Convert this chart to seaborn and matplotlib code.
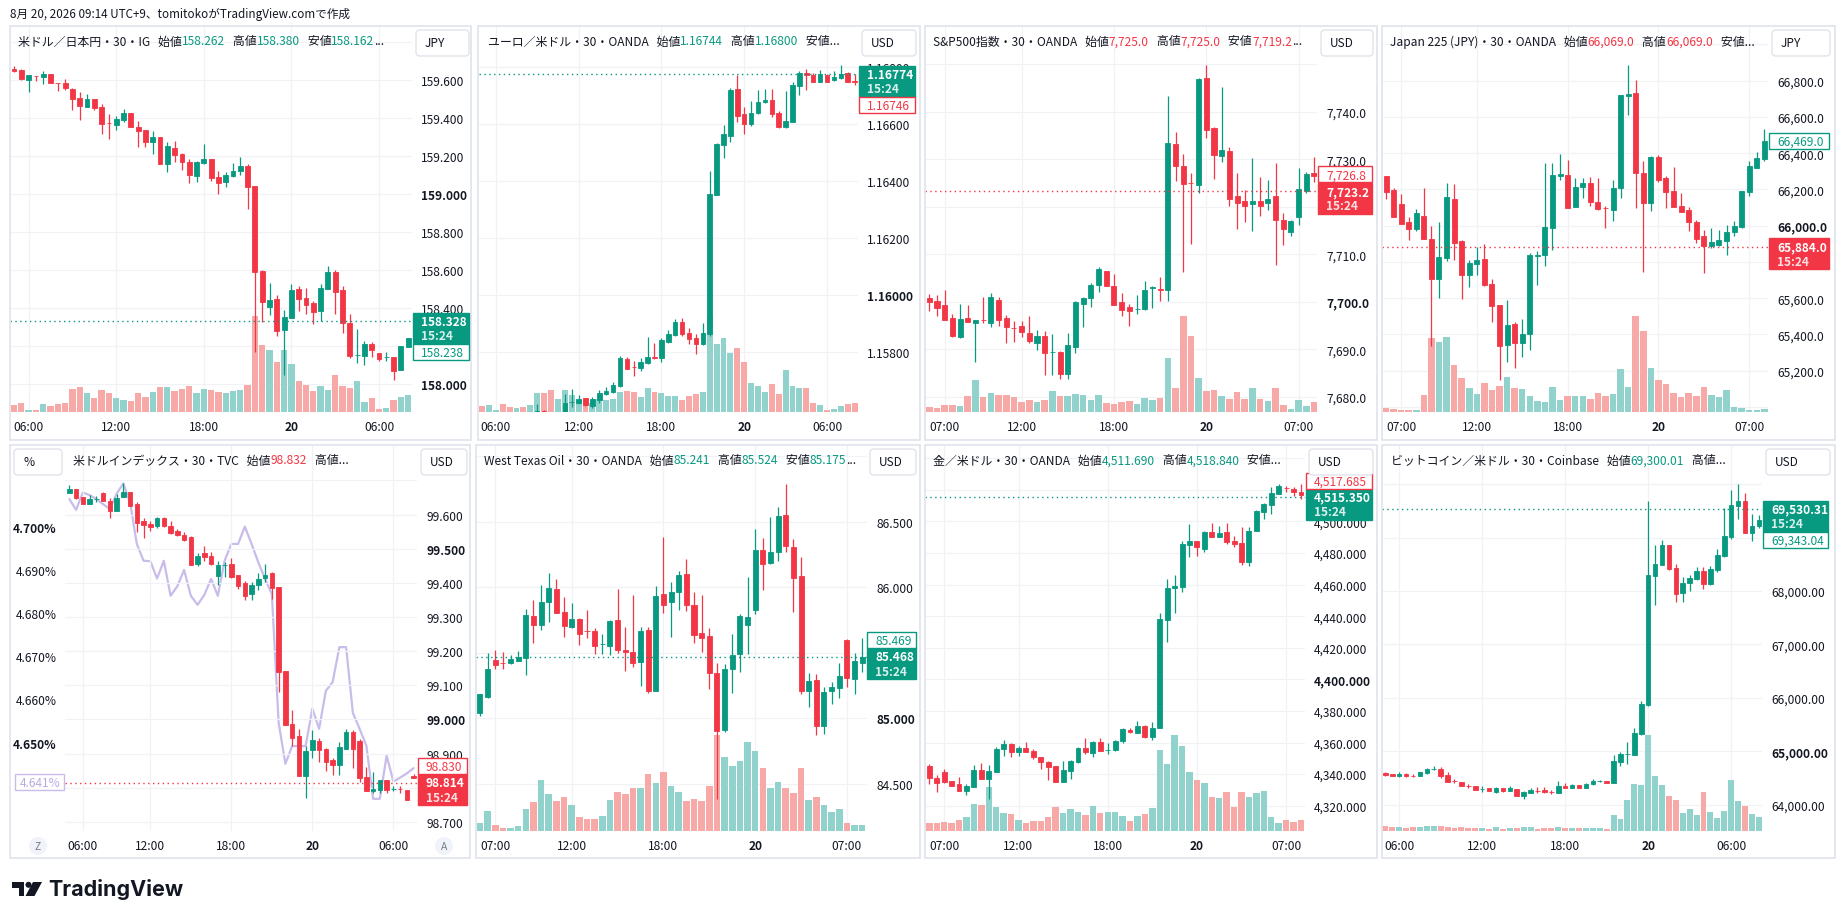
import numpy as np
import matplotlib.pyplot as plt
import seaborn as sns
from matplotlib.patches import Rectangle, FancyBboxPatch, Circle, Polygon
from matplotlib.transforms import IdentityTransform, blended_transform_factory

W, H = 1844, 920
UP, DOWN = '#089981', '#F23645'
UP_VOL, DOWN_VOL = '#92D2CC', '#F7A9A7'
GRID = '#F0F2F6'
TEXT = '#131722'
BORDER = '#E0E3EB'
PURPLE = '#C9BCEA'
VOL_SHARE = 0.25
FS = 8.6

# ---- data (30 min candles) ----
times_a = ['06:00', '12:00', '18:00', '20', '06:00']
times_b = ['07:00', '12:00', '18:00', '20', '07:00']

# USD/JPY
jpy_open = [159.656,159.653,159.600,159.621,159.616,159.628,159.584,159.582,159.551,159.504,
            159.458,159.498,159.454,159.372,159.363,159.388,159.425,159.353,159.335,159.274,
            159.300,159.158,159.240,159.207,159.167,159.095,159.161,159.181,159.088,159.060,
            159.095,159.119,159.147,159.039,158.593,158.405,158.446,158.284,158.347,158.498,
            158.451,158.425,158.384,158.498,158.586,158.491,158.319,158.149,158.147,158.209,
            158.161,158.138,158.139,158.074,158.195]
jpy_high = [159.674,159.656,159.625,159.621,159.647,159.630,159.584,159.604,159.556,159.533,
            159.525,159.498,159.472,159.419,159.407,159.446,159.425,159.382,159.335,159.332,
            159.300,159.270,159.275,159.214,159.182,159.172,159.261,159.181,159.119,159.116,
            159.161,159.193,159.156,159.039,158.598,158.530,158.467,158.388,158.525,158.512,
            158.502,158.435,158.525,158.621,158.596,158.512,158.368,158.288,158.226,158.218,
            158.161,158.168,158.139,158.200,158.242]
jpy_low = [159.642,159.600,159.537,159.595,159.577,159.582,159.542,159.547,159.442,159.389,
           159.454,159.442,159.314,159.288,159.335,159.375,159.350,159.247,159.247,159.209,
           159.156,159.116,159.168,159.126,159.058,159.063,159.156,159.068,158.998,159.037,
           159.089,159.100,158.921,158.168,158.326,158.363,158.253,158.047,158.344,158.381,
           158.365,158.316,158.330,158.498,158.368,158.265,158.135,158.107,158.100,158.142,
           158.118,158.121,158.021,158.074,158.191]
jpy_close = [159.647,159.604,159.625,159.619,159.630,159.584,159.582,159.556,159.500,159.463,
             159.498,159.451,159.368,159.370,159.393,159.425,159.353,159.330,159.274,159.300,
             159.158,159.253,159.205,159.165,159.100,159.168,159.181,159.082,159.058,159.098,
             159.119,159.144,159.037,158.589,158.432,158.440,158.279,158.351,158.493,158.446,
             158.416,158.379,158.502,158.586,158.484,158.319,158.144,158.151,158.209,158.179,
             158.130,158.139,158.068,158.196,158.239]
jpy_vol = [20,26,5,5,23,17,23,26,68,74, 56,41,65,56,41,35,32,56,44,59,
           74,74,62,68,77,56,68,65,59,56, 62,65,80,288,200,185,149,185,143,92,
           80,62,77,65,110,77,71,92,29,41, 8,11,35,44,50]
jpy_head = [('米ドル／日本円・30・IG   始値', 0), ('158.262', 1), ('   高値', 0), ('158.380', 1),
            ('   安値', 0), ('158.162', 1), ('...', 0)]

# EUR/USD
eur_open = [1.15545,1.15529,1.15560,1.15577,1.15552,1.15553,1.15561,1.15550,1.15559,1.15595,
            1.15542,1.15538,1.15571,1.15625,1.15623,1.15641,1.15613,1.15634,1.15654,1.15662,
            1.15683,1.15776,1.15749,1.15746,1.15763,1.15783,1.15781,1.15837,1.15862,1.15907,
            1.15869,1.15850,1.15828,1.15865,1.16352,1.16526,1.16559,1.16723,1.16635,1.16600,
            1.16637,1.16676,1.16684,1.16640,1.16588,1.16608,1.16734,1.16779,1.16772,1.16748,
            1.16772,1.16754,1.16760,1.16779,1.16752]
eur_high = [1.15547,1.15553,1.15582,1.15578,1.15568,1.15570,1.15582,1.15563,1.15619,1.15598,
            1.15544,1.15577,1.15653,1.15671,1.15649,1.15641,1.15643,1.15667,1.15677,1.15696,
            1.15788,1.15783,1.15769,1.15780,1.15853,1.15834,1.15849,1.15880,1.15917,1.15919,
            1.15886,1.15865,1.15902,1.16435,1.16532,1.16596,1.16725,1.16772,1.16661,1.16682,
            1.16720,1.16723,1.16723,1.16647,1.16717,1.16749,1.16787,1.16793,1.16779,1.16790,
            1.16775,1.16787,1.16807,1.16781,1.16774]
eur_low = [1.15518,1.15527,1.15558,1.15545,1.15545,1.15547,1.15545,1.15536,1.15553,1.15536,
           1.15504,1.15536,1.15567,1.15609,1.15620,1.15612,1.15606,1.15623,1.15650,1.15656,
           1.15678,1.15740,1.15717,1.15734,1.15758,1.15775,1.15767,1.15834,1.15857,1.15859,
           1.15831,1.15795,1.15825,1.15859,1.16351,1.16482,1.16538,1.16608,1.16565,1.16594,
           1.16634,1.16672,1.16623,1.16587,1.16586,1.16608,1.16702,1.16720,1.16747,1.16747,
           1.16747,1.16752,1.16758,1.16746,1.16737]
eur_close = [1.15529,1.15552,1.15578,1.15553,1.15550,1.15565,1.15550,1.15559,1.15595,1.15539,
             1.15540,1.15574,1.15622,1.15626,1.15637,1.15614,1.15637,1.15657,1.15666,1.15685,
             1.15780,1.15743,1.15747,1.15766,1.15783,1.15779,1.15843,1.15865,1.15907,1.15865,
             1.15848,1.15828,1.15869,1.16355,1.16530,1.16565,1.16720,1.16629,1.16601,1.16639,
             1.16677,1.16685,1.16635,1.16589,1.16611,1.16737,1.16780,1.16771,1.16749,1.16774,
             1.16749,1.16764,1.16776,1.16748,1.16746]
eur_vol = [17,20,5,23,14,11,14,20,56,56, 65,38,65,50,35,26,26,38,35,38,
           59,62,59,44,71,59,56,47,47,35, 47,53,59,287,203,221,176,191,149,86,
           77,59,83,53,125,77,71,71,26,20, 5,8,17,23,26]
eur_head = [('ユーロ／米ドル・30・OANDA   始値', 0), ('1.16744', 1), ('   高値', 0), ('1.16800', 1),
            ('   安値...', 0)]

# S&P 500
spx_open = [7700.7,7700.1,7699.3,7696.5,7692.6,7696.5,7695.6,7696.2,7695.6,7700.3,
            7696.5,7694.5,7694.8,7693.4,7691.4,7692.7,7689.3,7689.5,7684.8,7690.4,
            7699.6,7700.7,7703.6,7706.4,7703.2,7699.9,7698.8,7698.4,7698.5,7702.9,
            7702.6,7702.5,7733.1,7728.5,7725.0,7724.6,7747.0,7736.6,7730.7,7731.7,
            7722.2,7721.2,7720.5,7721.2,7720.7,7722.2,7717.2,7714.6,7717.9,7723.3,
            7727.0]
spx_high = [7701.6,7701.4,7702.5,7697.4,7699.5,7699.3,7696.1,7700.9,7701.8,7700.9,
            7697.2,7695.9,7695.9,7696.9,7694.0,7693.8,7693.2,7689.7,7693.4,7700.2,
            7700.9,7703.9,7707.2,7706.4,7705.8,7701.8,7699.5,7701.3,7704.3,7703.2,
            7705.1,7743.2,7735.7,7731.1,7727.1,7747.1,7749.8,7736.8,7745.2,7732.6,
            7727.1,7723.6,7730.2,7726.3,7725.6,7729.2,7718.6,7717.1,7728.1,7727.2,
            7730.5]
spx_low = [7698.1,7697.0,7696.2,7692.6,7692.3,7695.8,7687.4,7695.6,7694.6,7694.9,
           7691.4,7691.6,7692.5,7691.2,7689.9,7684.6,7684.6,7683.7,7683.7,7689.1,
           7694.6,7698.9,7702.1,7703.2,7699.4,7697.0,7694.9,7697.3,7698.3,7698.7,
           7700.2,7700.2,7725.5,7706.2,7712.1,7722.8,7734.4,7725.8,7729.5,7720.1,
           7715.4,7716.8,7714.9,7718.1,7719.3,7707.8,7712.0,7713.8,7716.1,7722.8,
           7725.1]
spx_close = [7700.0,7698.7,7696.2,7692.8,7696.3,7695.8,7696.1,7696.1,7700.9,7696.2,
             7694.6,7694.4,7693.7,7691.8,7692.7,7689.1,7689.4,7684.8,7690.9,7700.0,
             7700.8,7703.5,7706.9,7703.2,7699.4,7698.3,7698.1,7698.5,7702.5,7703.0,
             7702.5,7733.4,7728.6,7724.7,7724.9,7746.9,7736.2,7730.9,7731.9,7721.6,
             7720.7,7720.2,7721.1,7720.2,7721.6,7717.1,7715.2,7716.9,7723.7,7726.9,
             7726.5]
spx_vol = [14,11,20,20,17,47,95,44,56,50, 50,44,29,35,29,35,62,47,47,53,
           50,35,50,26,23,29,32,23,41,35, 41,161,71,287,227,101,62,65,47,38,
           59,38,71,38,32,71,20,8,35,17, 29]
spx_head = [('S&P500指数・30・OANDA   始値', 0), ('7,725.0', 1), ('   高値', 0), ('7,725.0', 1),
            ('   安値', 0), ('7,719.2', 1), ('...', 0)]

# Japan 225
nk_open = [66274,66197,66120,66022,65982,66052,65926,65706,65820,66147,
           65917,65728,65789,65816,65678,65562,65343,65458,65353,65404,
           65831,65838,65989,66272,66280,66105,66212,66235,66132,66099,
           66088,66210,66717,66730,66289,66127,66377,66263,66189,66107,
           66086,66022,65941,65886,65895,65917,65963,65993,66188,66320,
           66368]
nk_high = [66274,66206,66175,66046,66092,66206,65996,66022,66235,66230,
           65923,65811,65881,65897,65706,65562,65590,65470,65485,65849,
           65858,66346,66346,66395,66364,66263,66263,66267,66261,66110,
           66252,66721,66886,66804,66355,66386,66390,66272,66322,66178,
           66101,66031,65976,65985,65976,66006,66028,66193,66355,66405,
           66533]
nk_low = [66147,66050,66009,65923,65972,65926,65338,65601,65807,65812,
          65595,65663,65728,65669,65467,65149,65250,65213,65277,65314,
          65675,65779,65868,66252,66098,66101,66151,66107,66086,65985,
          66028,66155,66611,66098,65746,66083,66243,66098,66101,66077,
          65972,65903,65737,65877,65890,65840,65941,65985,66162,66320,
          66359]
nk_close = [66188,66050,66009,65982,66068,65926,65706,65825,66156,65904,
            65728,65792,65812,65673,65559,65338,65452,65353,65402,65838,
            65838,65991,66280,66285,66098,66212,66235,66132,66092,66098,
            66206,66721,66725,66289,66123,66377,66252,66188,66105,66077,
            66018,65926,65890,65908,65921,65963,65996,66189,66327,66372,
            66465]
nk_vol = [11,8,5,5,5,50,221,209,224,140, 101,71,53,86,65,77,104,71,68,47,
          32,29,74,35,47,47,47,38,56,47, 53,128,74,287,242,131,95,83,56,44,
          56,47,74,50,44,65,14,11,5,5, 8]
nk_head = [('Japan 225 (JPY)・30・OANDA   始値', 0), ('66,069.0', 1), ('   高値', 0), ('66,069.0', 1),
           ('   安値...', 0)]

# US dollar index + US10Y comparison (%)
dxy_open = [99.663,99.675,99.653,99.632,99.645,99.663,99.641,99.612,99.653,99.665,
            99.631,99.582,99.573,99.568,99.590,99.566,99.553,99.540,99.535,99.454,
            99.488,99.478,99.421,99.452,99.455,99.423,99.399,99.366,99.395,99.413,
            99.428,99.389,99.143,98.987,98.950,98.833,98.909,98.938,98.913,98.882,
            98.865,98.913,98.964,98.938,98.832,98.789,98.793,98.821,98.795,98.797,
            98.794,98.835]
dxy_high = [99.687,99.675,99.653,99.658,99.656,99.667,99.648,99.661,99.692,99.665,
            99.636,99.589,99.582,99.592,99.592,99.582,99.558,99.548,99.537,99.488,
            99.507,99.490,99.463,99.462,99.472,99.423,99.405,99.404,99.429,99.455,
            99.431,99.389,99.143,99.029,98.972,98.923,98.969,98.945,98.917,98.886,
            98.935,98.972,98.969,98.943,98.860,98.845,98.823,98.821,98.806,98.804,
            98.794,98.840]
dxy_low = [99.663,99.646,99.632,99.632,99.638,99.641,99.591,99.612,99.653,99.624,
           99.550,99.532,99.553,99.562,99.565,99.543,99.536,99.524,99.451,99.448,
           99.463,99.452,99.395,99.416,99.413,99.382,99.351,99.351,99.380,99.402,
           99.353,99.081,98.985,98.923,98.835,98.770,98.886,98.874,98.850,98.837,
           98.837,98.913,98.858,98.818,98.789,98.785,98.785,98.785,98.791,98.785,
           98.765,98.827]
dxy_close = [99.675,99.649,99.632,99.646,99.646,99.641,99.612,99.648,99.665,99.626,
             99.576,99.570,99.564,99.589,99.567,99.546,99.540,99.527,99.451,99.480,
             99.475,99.455,99.453,99.453,99.418,99.392,99.363,99.395,99.411,99.423,
             99.384,99.138,98.985,98.946,98.835,98.906,98.940,98.911,98.876,98.865,
             98.918,98.962,98.913,98.828,98.789,98.796,98.821,98.794,98.796,98.796,
             98.765,98.827]
us10y = [4.7064,4.7039,4.7079,4.7073,4.7064,4.7052,4.7041,4.7076,4.7100,4.7056,
         4.6960,4.6921,4.6920,4.6880,4.6921,4.6840,4.6862,4.6900,4.6840,4.6819,
         4.6842,4.6879,4.6840,4.6921,4.6960,4.6960,4.7000,4.6960,4.6917,4.6879,
         4.6844,4.6547,4.6451,4.6492,4.6492,4.6492,4.6579,4.6532,4.6620,4.6640,
         4.6721,4.6721,4.6569,4.6532,4.6493,4.6370,4.6370,4.6470,4.6410,4.6419,
         4.6429,4.6441]
us10y_last = 4.641
pct_ticks = [4.65, 4.66, 4.67, 4.68, 4.69, 4.70]
dxy_head = [('米ドルインデックス・30・TVC   始値', 0), ('98.832', 1), ('   高値...', 0)]

# WTI
wti_open = [85.039,85.164,85.444,85.420,85.419,85.434,85.459,85.777,85.714,85.887,
            85.986,85.808,85.698,85.757,85.664,85.663,85.565,85.553,85.749,85.520,
            85.503,85.431,85.673,85.210,85.948,85.884,85.966,86.101,85.866,85.648,
            85.625,85.342,84.910,85.375,85.490,85.714,85.828,86.284,86.184,86.271,
            86.551,86.304,86.088,85.205,85.294,84.938,85.205,85.228,85.597,85.296,
            85.419]
wti_high = [85.185,85.497,85.520,85.505,85.482,85.510,85.833,85.905,86.017,86.108,
            86.062,85.922,85.879,85.765,85.826,85.686,85.642,85.749,85.986,85.693,
            85.943,85.698,85.698,86.011,86.380,86.037,86.126,86.215,85.961,85.943,
            85.686,85.419,85.414,85.642,85.795,86.080,86.444,86.375,86.538,86.609,
            86.788,86.368,86.228,85.345,85.335,85.235,85.274,85.421,85.604,85.495,
            85.612]
wti_low = [85.019,85.154,85.375,85.375,85.414,85.434,85.332,85.574,85.676,85.737,
           85.800,85.622,85.686,85.561,85.612,85.490,85.490,85.485,85.495,85.363,
           85.388,85.248,85.192,85.210,85.800,85.622,85.828,85.821,85.571,85.508,
           85.223,84.383,84.892,85.192,85.355,85.490,85.795,85.981,86.177,86.197,
           86.271,85.813,85.185,85.088,84.874,84.879,85.108,85.151,85.235,85.185,
           85.355]
wti_close = [85.185,85.375,85.406,85.419,85.452,85.464,85.788,85.714,85.884,85.994,
             85.800,85.706,85.757,85.642,85.663,85.553,85.566,85.744,85.523,85.503,
             85.424,85.668,85.210,85.933,85.866,85.961,86.093,85.866,85.637,85.612,
             85.345,84.905,85.375,85.482,85.777,85.770,86.284,86.177,86.266,86.543,
             86.312,86.070,85.210,85.281,84.943,85.197,85.235,85.319,85.304,85.434,
             85.464]
wti_vol = [25,60,17,9,9,14,65,86,152,110, 89,101,77,41,35,35,44,92,116,110,
           128,128,170,143,176,134,116,89,95,89, 134,287,221,194,209,266,239,188,128,146,
           128,113,188,92,101,77,56,65,23,17, 17]
wti_head = [('West Texas Oil・30・OANDA   始値', 0), ('85.241', 1), ('   高値', 0), ('85.524', 1),
            ('   安値', 0), ('85.175', 1), ('...', 0)]

# Gold
gold_open = [4344.9,4337.3,4341.5,4335.8,4333.7,4329.5,4331.6,4342.6,4336.9,4341.5,
             4355.9,4359.1,4354.2,4356.3,4354.8,4350.6,4347.9,4344.9,4334.8,4342.2,
             4347.4,4356.3,4353.4,4360.1,4355.4,4355.3,4361.2,4368.1,4366.0,4370.2,
             4363.7,4369.0,4437.8,4457.6,4458.7,4485.3,4487.6,4482.5,4493.1,4490.3,
             4493.1,4487.4,4486.1,4474.5,4494.1,4506.2,4510.6,4517.4,4521.0,4520.5,
             4518.8]
gold_high = [4346.4,4339.4,4343.2,4335.8,4338.4,4333.7,4345.8,4347.0,4345.8,4356.9,
             4361.6,4359.7,4358.0,4360.1,4355.9,4351.0,4348.5,4344.9,4348.1,4349.1,
             4356.9,4362.6,4361.2,4362.6,4359.7,4361.6,4369.0,4369.0,4373.4,4371.1,
             4372.8,4442.0,4463.5,4466.1,4487.4,4498.4,4487.8,4494.1,4499.0,4497.3,
             4499.0,4491.0,4496.3,4496.7,4507.4,4511.7,4521.6,4523.7,4522.6,4521.6,
             4523.7]
gold_low = [4333.7,4328.9,4334.1,4332.7,4329.5,4327.0,4331.6,4336.9,4324.2,4341.5,
            4351.7,4351.0,4351.7,4354.2,4349.6,4343.2,4336.5,4334.8,4334.8,4336.9,
            4347.0,4352.7,4351.0,4354.8,4352.7,4354.4,4359.7,4365.8,4366.0,4362.9,
            4361.6,4369.0,4423.9,4442.0,4455.1,4477.7,4478.3,4480.4,4490.3,4490.3,
            4485.7,4484.0,4472.6,4472.0,4494.1,4501.5,4504.7,4517.4,4518.8,4516.3,
            4514.2]
gold_close = [4337.3,4334.1,4335.2,4332.7,4329.5,4332.2,4342.6,4336.9,4341.7,4355.9,
              4359.1,4354.2,4356.5,4354.2,4350.6,4347.9,4344.7,4334.8,4342.6,4348.5,
              4356.3,4354.2,4360.1,4354.8,4355.5,4361.2,4368.5,4366.4,4370.2,4363.7,
              4369.0,4438.2,4457.6,4458.9,4485.7,4487.4,4483.6,4493.1,4490.3,4492.5,
              4487.2,4485.7,4474.1,4494.1,4506.4,4511.0,4518.0,4522.2,4520.9,4518.4,
              4516.9]
gold_vol = [25,23,26,23,32,41,80,77,131,71, 53,50,32,23,29,29,41,71,53,65,
            56,47,74,53,56,56,44,29,44,50, 68,242,200,287,254,176,152,143,101,98,
            116,71,116,101,113,119,41,23,32,26, 32]
gold_head = [('金／米ドル・30・OANDA   始値', 0), ('4,511.690', 1), ('   高値', 0), ('4,518.840', 1),
             ('   安値...', 0)]

# Bitcoin
btc_open = [64593,64568,64531,64574,64544,64531,64587,64673,64668,64556,
            64438,64431,64345,64344,64293,64306,64244,64306,64250,64294,
            64156,64213,64263,64281,64245,64213,64356,64318,64369,64318,
            64379,64442,64449,64412,64805,64948,64936,65323,65866,68287,
            68493,68861,68431,67963,68144,68225,68374,68131,68399,68661,
            69005,69597,69685,69086,69211]
btc_high = [64618,64568,64618,64587,64568,64618,64693,64730,64699,64612,
            64487,64431,64379,64356,64344,64306,64337,64318,64344,64294,
            64262,64306,64325,64325,64281,64443,64406,64387,64369,64406,
            64479,64468,64449,64930,64980,65167,65435,65935,69679,68861,
            68961,68861,68505,68256,68300,68456,68443,68474,68786,69548,
            69891,70003,69835,69441,69423]
btc_low = [64543,64531,64524,64524,64512,64531,64574,64655,64499,64431,
           64400,64344,64306,64281,64231,64256,64219,64244,64250,64169,
           64106,64213,64213,64219,64194,64213,64318,64306,64318,64318,
           64375,64418,64412,64412,64730,64761,64936,65304,65853,67744,
           68493,68399,67800,67788,68006,68212,68037,68112,68362,68630,
           68973,69348,69086,68942,69173]
btc_close = [64556,64531,64574,64543,64543,64605,64668,64674,64543,64431,
             64437,64344,64344,64281,64294,64256,64312,64250,64306,64169,
             64231,64281,64262,64231,64244,64356,64318,64369,64318,64387,
             64449,64443,64412,64818,64949,64949,65336,65885,68300,68505,
             68861,68412,67944,68150,68237,68374,68131,68412,68674,69023,
             69610,69685,69086,69211,69335]
btc_vol = [14,11,11,9,11,11,14,14,14,11, 9,11,9,9,9,6,11,6,9,9,
           11,11,6,9,9,11,9,9,9,9, 9,9,6,47,35,92,140,137,287,164,
           137,104,92,53,65,47,116,56,38,59, 152,89,74,50,41]
btc_head = [('ビットコイン／米ドル・30・Coinbase   始値', 0), ('69,300.01', 1), ('   高値...', 0)]

# ---- panel layout (pixels of the 1844x920 canvas) ----
PANELS = [
    dict(o=jpy_open, h=jpy_high, l=jpy_low, c=jpy_close, vol=jpy_vol, head=jpy_head, head_up=True,
         pane=(10, 27, 471, 441), plot=(10, 28, 412, 413), xlim=(-0.55, 54.52), ylim=(157.851, 159.877),
         xticks=[2, 14, 26, 38, 50], xlabels=times_a, fmt='{:.3f}',
         grid=[158.0, 158.2, 158.4, 158.6, 158.8, 159.0, 159.2, 159.4, 159.6, 159.8],
         yticks=[158.0, 158.2, 158.4, 158.6, 158.8, 159.0, 159.2, 159.4, 159.6],
         bold=['159.000', '158.000'], last=158.328, last_up=True,
         tag2=('158.238', None, UP, 'below'), axis_x=(413, 469), headxy=(18, 42),
         unit=(416, 31, 469, 57, 'JPY')),
    dict(o=eur_open, h=eur_high, l=eur_low, c=eur_close, vol=eur_vol, head=eur_head, head_up=True,
         pane=(478, 27, 920, 441), plot=(479, 28, 858, 413), xlim=(-0.43, 54.49), ylim=(1.15591, 1.16940),
         xticks=[2, 14, 26, 38, 50], xlabels=times_a, fmt='{:.5f}',
         grid=[1.158, 1.160, 1.162, 1.164, 1.166, 1.168],
         yticks=[1.158, 1.160, 1.162, 1.164, 1.166, 1.168],
         bold=['1.16000'], last=1.16774, last_up=True,
         tag2=('1.16746', None, DOWN, 'below'), axis_x=(859, 915), headxy=(488, 42),
         unit=(862, 31, 916, 57, 'USD')),
    dict(o=spx_open, h=spx_high, l=spx_low, c=spx_close, vol=spx_vol, head=spx_head, head_up=False,
         pane=(925, 27, 1377, 441), plot=(925, 28, 1317, 413), xlim=(-0.56, 50.39), ylim=(7676.77, 7757.83),
         xticks=[2, 12, 24, 36, 48], xlabels=times_b, fmt='{:,.1f}',
         grid=[7680, 7690, 7700, 7710, 7720, 7730, 7740, 7750],
         yticks=[7680, 7690, 7700, 7710, 7720, 7730, 7740],
         bold=['7,700.0'], last=7723.2, last_up=False,
         tag2=('7,726.8', 7726.8, DOWN, 'natural'), axis_x=(1318, 1372), headxy=(933, 42),
         unit=(1321, 31, 1373, 57, 'USD')),
    dict(o=nk_open, h=nk_high, l=nk_low, c=nk_close, vol=nk_vol, head=nk_head, head_up=False,
         pane=(1382, 27, 1835, 441), plot=(1382, 28, 1768, 413), xlim=(-0.53, 50.48), ylim=(64972, 67096),
         xticks=[2, 12, 24, 36, 48], xlabels=times_b, fmt='{:,.1f}',
         grid=[65000, 65200, 65400, 65600, 65800, 66000, 66200, 66400, 66600, 66800, 67000],
         yticks=[65200, 65400, 65600, 65800, 66000, 66200, 66400, 66600, 66800],
         bold=['66,000.0'], last=65884.0, last_up=False,
         tag2=('66,469.0', 66469.0, UP, 'natural'), axis_x=(1769, 1829), headxy=(1390, 42),
         unit=(1772, 31, 1830, 57, 'JPY')),
    dict(o=dxy_open, h=dxy_high, l=dxy_low, c=dxy_close, vol=None, head=dxy_head, head_up=False,
         pane=(10, 446, 470, 859), plot=(65, 446, 417, 832), xlim=(-0.64, 51.5), ylim=(98.673, 99.804),
         xticks=[2, 12, 24, 36, 48], xlabels=times_a, fmt='{:.3f}',
         grid=[98.7, 98.8, 98.9, 99.0, 99.1, 99.2, 99.3, 99.4, 99.5, 99.6, 99.7],
         yticks=[98.7, 98.8, 98.9, 99.0, 99.1, 99.2, 99.3, 99.4, 99.5, 99.6],
         bold=['99.500', '99.000'], last=98.814, last_up=False,
         tag2=('98.830', None, DOWN, 'above'), axis_x=(418, 467), headxy=(73, 461),
         unit=(421, 450, 467, 476, 'USD'),
         pct=us10y, pct_ylim=(4.62955, 4.7189)),
    dict(o=wti_open, h=wti_high, l=wti_low, c=wti_close, vol=wti_vol, head=wti_head, head_up=True,
         pane=(476, 446, 920, 859), plot=(476, 446, 867, 832), xlim=(-0.52, 50.63), ylim=(84.139, 87.085),
         xticks=[2, 12, 24, 36, 48], xlabels=times_b, fmt='{:.3f}',
         grid=[84.5, 85.0, 85.5, 86.0, 86.5, 87.0],
         yticks=[84.5, 85.0, 85.5, 86.0, 86.5],
         bold=['85.000'], last=85.468, last_up=True,
         tag2=('85.469', None, UP, 'above'), axis_x=(867, 916), headxy=(484, 461),
         unit=(870, 450, 916, 476, 'USD')),
    dict(o=gold_open, h=gold_high, l=gold_low, c=gold_close, vol=gold_vol, head=gold_head, head_up=True,
         pane=(925, 446, 1377, 859), plot=(925, 446, 1305, 832), xlim=(-0.58, 50.54), ylim=(4303.96, 4548.4),
         xticks=[2, 12, 24, 36, 48], xlabels=times_b, fmt='{:,.3f}',
         grid=[4320, 4340, 4360, 4380, 4400, 4420, 4440, 4460, 4480, 4500, 4520, 4540],
         yticks=[4320, 4340, 4360, 4380, 4400, 4420, 4440, 4460, 4480, 4500],
         bold=['4,400.000'], last=4515.35, last_up=True,
         tag2=('4,517.685', None, DOWN, 'above'), axis_x=(1306, 1372), headxy=(933, 461),
         unit=(1309, 450, 1373, 476, 'USD')),
    dict(o=btc_open, h=btc_high, l=btc_low, c=btc_close, vol=btc_vol, head=btc_head, head_up=True,
         pane=(1382, 446, 1835, 859), plot=(1382, 446, 1762, 832), xlim=(-0.48, 54.46), ylim=(63507, 70733),
         xticks=[2, 14, 26, 38, 50], xlabels=times_a, fmt='{:,.2f}',
         grid=[64000, 65000, 66000, 67000, 68000, 69000, 70000],
         yticks=[64000, 65000, 66000, 67000, 68000],
         bold=['65,000.00'], last=69530.31, last_up=True,
         tag2=('69,343.04', None, UP, 'below'), axis_x=(1763, 1828), headxy=(1391, 461),
         unit=(1766, 450, 1830, 476, 'USD')),
]

sns.set_theme(style='white')
plt.rcParams['font.family'] = ['Noto Sans CJK JP', 'DejaVu Sans']

fig = plt.figure(figsize=(W / 100, H / 100), dpi=100)
fig.patch.set_facecolor('white')
PIX = IdentityTransform()


def pbox(x0, y0, x1, y1, fc='white', ec=BORDER, lw=1.0, r=0, z=1):
    if r:
        p = FancyBboxPatch((x0, H - y1), x1 - x0, y1 - y0, boxstyle=f'round,pad=0,rounding_size={r}',
                           transform=PIX, fc=fc, ec=ec, lw=lw, zorder=z)
    else:
        p = Rectangle((x0, H - y1), x1 - x0, y1 - y0, transform=PIX, fc=fc, ec=ec, lw=lw, zorder=z)
    fig.add_artist(p)


def ptext(x, y, s, **kw):
    kw.setdefault('color', TEXT)
    kw.setdefault('fontsize', FS)
    kw.setdefault('va', 'center')
    kw.setdefault('zorder', 3)
    return fig.text(x, H - y, s, transform=PIX, **kw)


def vy(ax, v):
    return H - ax.transData.transform((0, v))[1]


def style_ticks(ax, axis, bold, pad):
    ax.tick_params(axis=axis, length=0, pad=pad, labelsize=FS, labelcolor=TEXT)
    labels = ax.get_yticklabels() if axis == 'y' else ax.get_xticklabels()
    for lab in labels:
        if lab.get_text() in bold:
            lab.set_fontweight('bold')


def draw_panel(p):
    x0, y0, x1, y1 = p['pane']
    pbox(x0, y0, x1, y1, fc='none', ec=BORDER, lw=1.2, z=0.5)
    a0, b0, a1, b1 = p['plot']
    ax = fig.add_axes([a0 / W, 1 - b1 / H, (a1 - a0) / W, (b1 - b0) / H])
    o, h, l, c = (np.asarray(p[k], float) for k in 'ohlc')
    x = np.arange(len(c))
    up = c >= o
    cols = np.where(up, UP, DOWN)

    # comparison symbol on its own left % scale, drawn under the candles
    if p.get('pct') is not None:
        axp = ax.twinx()
        sns.lineplot(x=x, y=p['pct'], ax=axp, color=PURPLE, linewidth=1.6)
        axp.set_zorder(ax.get_zorder() - 1)
        axp.yaxis.tick_left()
        axp.set_yticks(pct_ticks, [f'{t:.3f}%' for t in pct_ticks])
        style_ticks(axp, 'y', ('4.700%', '4.650%'), 6)
        for s in axp.spines.values():
            s.set_visible(False)
        axp.grid(False)
        axp.set_xlim(*p['xlim'])
        axp.set_ylim(*p['pct_ylim'])
        pyp = vy(axp, us10y_last)
        pbox(15, pyp - 8, 64, pyp + 8, fc='white', ec='#C8BCEB', z=2)
        ptext(20, pyp + 0.5, f'{us10y_last:.3f}%', color='#B9A9E3')

    for g in p['grid']:
        ax.axhline(g, color=GRID, lw=0.9, zorder=0)
    for t in p['xticks']:
        ax.axvline(t, color=GRID, lw=0.9, zorder=0)
    if p['vol'] is not None:
        v = np.asarray(p['vol'], float)
        trans = blended_transform_factory(ax.transData, ax.transAxes)
        ax.bar(x, v / v.max() * VOL_SHARE, width=0.86, color=np.where(up, UP_VOL, DOWN_VOL),
               linewidth=0, transform=trans, zorder=1)
    ax.vlines(x, l, h, colors=cols, linewidth=0.9, zorder=2)
    ax.bar(x, np.abs(c - o), bottom=np.minimum(o, c), width=0.66, color=cols,
           edgecolor=cols, linewidth=0.6, zorder=3)
    line_col = UP if p['last_up'] else DOWN
    ax.axhline(p['last'], color=line_col, lw=1.0, ls=(0, (1, 2.5)), zorder=4)

    ax.yaxis.tick_right()
    ax.set_yticks(p['yticks'], [p['fmt'].format(t) for t in p['yticks']])
    ax.set_xticks(p['xticks'], p['xlabels'])
    style_ticks(ax, 'y', p['bold'], 6.5)
    style_ticks(ax, 'x', ('20',), 5.5)
    for s in ax.spines.values():
        s.set_visible(False)
    ax.grid(False)
    ax.set_xlim(*p['xlim'])
    ax.set_ylim(*p['ylim'])
    ax.patch.set_visible(False)

    # header: name + OHLC values
    hx, hy = p['headxy']
    val_col = UP if p['head_up'] else DOWN
    prev = None
    for s, is_val in p['head']:
        col = val_col if is_val else TEXT
        if prev is None:
            prev = ax.annotate(s, xy=(hx, H - hy), xycoords=PIX, va='center', ha='left',
                               fontsize=FS, color=col)
        else:
            prev = ax.annotate(s, xy=(1, 0), xycoords=prev, va='bottom', ha='left',
                               fontsize=FS, color=col)

    # price tags on the scale (the currency button sits above them)
    tx0, tx1 = p['axis_x']
    ly = vy(ax, p['last'])
    top = ly - 8.5
    pbox(tx0, top, tx1, top + 31, fc=line_col, ec=line_col, z=2)
    ptext(tx0 + 8, top + 8.5, p['fmt'].format(p['last']), color='white', fontweight='bold', zorder=2.2)
    ptext(tx0 + 8, top + 23, '15:24', color='white', alpha=0.85, fontweight='bold', zorder=2.2)
    s2, v2, c2, where = p['tag2']
    if where == 'below':
        t2 = top + 31
    elif where == 'above':
        t2 = top - 16
    else:
        t2 = vy(ax, v2) - 8
    pbox(tx0, t2, tx1, t2 + 16, fc='white', ec=c2, z=2)
    ptext(tx0 + 8, t2 + 8.5, s2, color=c2, zorder=2.2)

    ux0, uy0, ux1, uy1, unit = p['unit']
    pbox(ux0, uy0, ux1, uy1, fc='white', ec=BORDER, lw=1.0, r=4, z=2.5)
    ptext(ux0 + 9, (uy0 + uy1) / 2, unit)
    return ax


axes = [draw_panel(p) for p in PANELS]

# extra buttons on the dollar-index pane
pbox(14, 450, 62, 476, fc='white', ec=BORDER, r=4, z=2.5)
ptext(23, 463, '%')
for cx, letter in ((38, 'Z'), (444, 'A')):
    fig.add_artist(Circle((cx, H - 847), 9, transform=PIX, fc='#F0F3FA', ec='none'))
    ptext(cx, 847, letter, ha='center', color='#787B86', fontsize=7.5)

# caption and logo
ptext(10, 15, '8月 20, 2026 09:14 UTC+9、tomitokoがTradingView.comで作成', fontsize=8.4)
fig.add_artist(Polygon([(12, H - 883), (24, H - 883), (24, H - 897), (18.5, H - 897),
                        (18.5, H - 888.5), (12, H - 888.5)], closed=True, transform=PIX,
                       fc=TEXT, ec='none'))
fig.add_artist(Circle((28.5, H - 885.8), 3.0, transform=PIX, fc=TEXT, ec='none'))
fig.add_artist(Polygon([(33, H - 883), (42, H - 883), (34.5, H - 897), (25.5, H - 897)],
                       closed=True, transform=PIX, fc=TEXT, ec='none'))
ptext(48, 890, 'TradingView', fontsize=15.5, fontweight='bold', family='Inter')

fig.savefig('out.png', dpi=100)
